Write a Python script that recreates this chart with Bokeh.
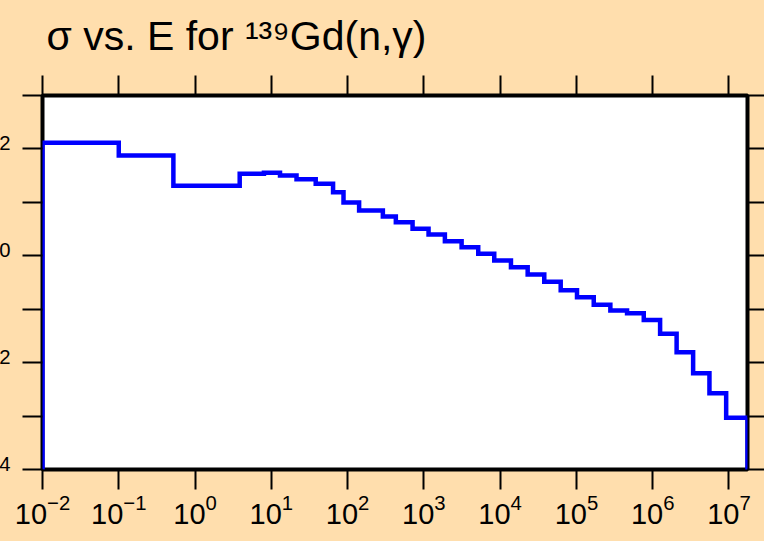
from bokeh.plotting import figure
from bokeh.models import (Range1d, LogAxis, FixedTicker,
                          GlobalInlineStyleSheet, CustomJSTickFormatter)
from bokeh.embed import file_html
from bokeh.resources import INLINE

# ---------------- data ----------------
energy_edges_eV = [0.01, 0.1, 0.52, 3.85, 8.0, 13.0, 21.4, 38.2, 64.5, 88.4,
                   141.6, 290, 429, 711, 1152, 1886, 3125, 5160, 8370, 13860,
                   22960, 37900, 62230, 101800, 168700, 278600, 461300, 764100,
                   1.251e6, 2.059e6, 3.39e6, 5.548e6, 9.19e6, 1.75e7]
sigma_barns = [130.2, 75.3, 20.4, 34.2, 35.7, 31.8, 27.1, 22.2, 15.5, 9.94,
               7.04, 5.43, 4.25, 3.20, 2.50, 1.875, 1.447, 1.089, 0.816, 0.611,
               0.446, 0.326, 0.227, 0.168, 0.121, 0.0946, 0.0842, 0.0628,
               0.0347, 0.01568, 0.00634, 0.00268, 0.000928]
sigma_outside = 1e-8   # histogram drops to nothing outside the tabulated range

x_ticks = [1e-2, 1e-1, 1e0, 1e1, 1e2, 1e3, 1e4, 1e5, 1e6, 1e7]
y_major_ticks = [1e-4, 1e-2, 1e0, 1e2]
y_minor_ticks = [1e-3, 1e-1, 1e1, 1e3]
y_all_ticks = [1e-4, 1e-3, 1e-2, 1e-1, 1e0, 1e1, 1e2, 1e3]

title_text = "σ vs. E for ¹³⁹Gd(n,γ)"

BG = "#FFDEAD"
FONT = "Liberation Sans"

# ---------------- histogram outline ----------------
xs = [energy_edges_eV[0]]
ys = [sigma_outside]
for i, s in enumerate(sigma_barns):
    xs += [energy_edges_eV[i], energy_edges_eV[i + 1]]
    ys += [s, s]
xs.append(energy_edges_eV[-1])
ys.append(sigma_outside)

p = figure(x_axis_type="log", y_axis_type="log",
           x_range=Range1d(energy_edges_eV[0], energy_edges_eV[-1]),
           y_range=Range1d(y_all_ticks[0], y_all_ticks[-1]),
           frame_width=705, frame_height=374,
           min_border_left=100, min_border_right=17,
           min_border_top=95, min_border_bottom=72,
           output_backend="svg", toolbar_location=None,
           background_fill_color="white", border_fill_color=BG,
           outline_line_color="black", outline_line_width=4,
           margin=(-7, 0, 0, -58))
p.stylesheets = [GlobalInlineStyleSheet(
    css="html, body { margin: 0; padding: 0; overflow: hidden; background: #FFDEAD; }")]
p.grid.visible = False

p.title.text = title_text
p.title.text_font = FONT
p.title.text_font_size = "41px"
p.title.text_font_style = "normal"
p.title.text_color = "black"
p.title.align = "left"
p.title.offset = 4
p.title.standoff = 34

p.line(xs, ys, line_color="#0000FF", line_width=4.5, line_join="miter")

# bottom axis
xa = p.xaxis[0]
xa.ticker = FixedTicker(ticks=x_ticks, minor_ticks=[])
xa.axis_line_color = None
xa.major_tick_in = 0
xa.major_tick_out = 20
xa.major_tick_line_width = 2
xa.minor_tick_out = 0
xa.minor_tick_in = 0
xa.major_label_text_font = FONT
xa.major_label_text_font_size = "29px"
xa.major_label_text_color = "black"
xa.major_label_standoff = 4

# left axis
ya = p.yaxis[0]
ya.ticker = FixedTicker(ticks=y_major_ticks, minor_ticks=y_minor_ticks)
ya.axis_line_color = None
ya.major_tick_in = 0
ya.major_tick_out = 20
ya.minor_tick_in = 0
ya.minor_tick_out = 20
ya.major_tick_line_width = 2
ya.minor_tick_line_width = 2
ya.minor_tick_line_color = "black"
ya.major_label_text_font = FONT
ya.major_label_text_font_size = "29px"
ya.major_label_text_color = "black"
ya.major_label_standoff = 12

# top and right tick-only axes
top = LogAxis(ticker=FixedTicker(ticks=x_ticks, minor_ticks=[]),
              formatter=CustomJSTickFormatter(code="return '';"),
              axis_line_color=None, major_tick_in=0, major_tick_out=20,
              major_tick_line_width=2, minor_tick_out=0, minor_tick_in=0,
              major_label_standoff=0)
p.add_layout(top, "above")
right = LogAxis(ticker=FixedTicker(ticks=y_all_ticks, minor_ticks=[]),
                formatter=CustomJSTickFormatter(code="return '';"),
                axis_line_color=None, major_tick_in=0, major_tick_out=17,
                major_tick_line_width=2, minor_tick_out=0, minor_tick_in=0,
                major_label_standoff=0)
p.add_layout(right, "right")

open("out.html", "w").write(file_html(p, INLINE))
